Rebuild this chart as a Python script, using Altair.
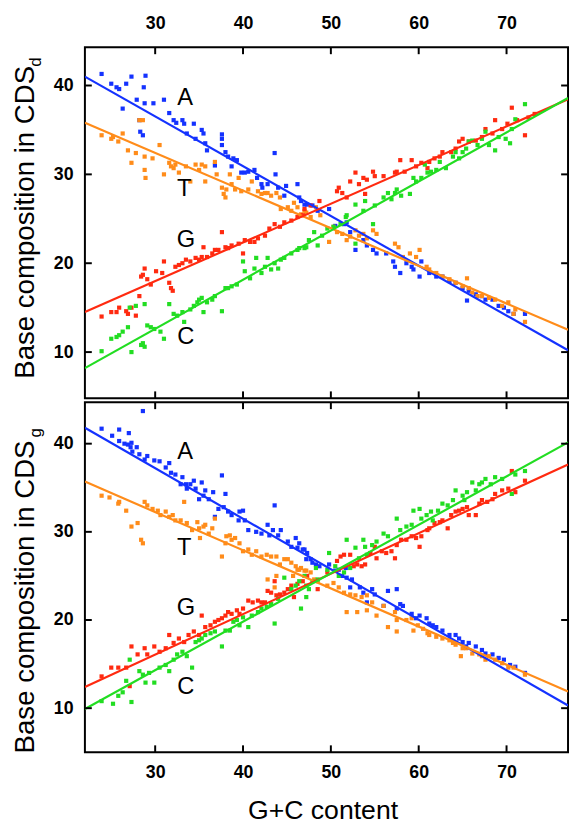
import altair as alt
import pandas as pd

BASES = ["A", "T", "G", "C"]
COLORS = ["#1432ff", "#ff8c1a", "#ff2a10", "#22dd22"]
X_TICKS = [30, 40, 50, 60, 70]
Y_TICKS = [10, 20, 30, 40]
X_DOMAIN = [22, 77]
TOP_Y_DOMAIN = [4.8, 44.3]
BOT_Y_DOMAIN = [5.0, 44.7]

# ---------- top panel (CDS_d) scatter points ----------
TOP_A = [(23.9,41.3),(25.0,40.2),(25.6,39.8),(25.9,39.6),(26.7,40.2),(27.3,41.0),(28.9,41.1),(28.7,39.8),
         (27.9,38.4),(28.8,38.0),(29.8,38.0),(31.0,38.4),(26.3,37.4),(28.2,36.1),(28.6,34.4),(28.3,34.8),
         (31.6,36.9),(32.1,36.1),(32.4,35.8),(33.1,36.1),(33.3,35.7),(34.4,35.7),(33.6,34.6),(34.6,34.0),
         (35.3,35.0),(35.5,34.6),(35.7,33.5),(35.9,32.7),(37.6,34.5),(37.6,34.0),(37.6,33.3),(38.0,32.5),
         (36.8,31.0),(38.3,32.0),(38.9,31.8),(39.3,31.6),(38.7,30.9),(39.8,30.2),(40.2,30.2),(40.6,30.3),
         (41.3,30.5),(41.6,29.6),(42.1,28.9),(42.2,28.5),(42.8,28.9),(43.6,32.4),(43.7,30.0),(44.0,28.5),
         (44.7,27.6),(44.9,28.7),(46.2,28.9),(46.6,27.0),(47.0,26.6),(46.4,27.4),(47.3,26.6),(47.9,26.5),
         (48.5,25.9),(49.8,26.1),(50.5,24.2),(51.5,24.4),(51.8,24.6),(52.2,23.5),(52.8,21.5),(53.7,22.6),
         (54.1,22.0),(54.8,21.5),(55.2,21.1),(56.3,21.1),(57.1,20.2),(57.3,19.6),(57.9,18.9),(58.6,20.0),
         (59.2,19.6),(59.4,19.3),(60.1,18.5),(60.3,20.2),(61.2,18.9),(62.0,18.5),(62.7,18.5),(63.5,18.0),
         (64.2,17.8),(65.0,17.2),(65.5,15.8),(65.7,16.9),(66.5,16.5),(67.2,16.3),(67.6,15.9),(68.4,15.9),
         (69.1,15.2),(69.7,15.0),(70.2,14.6),(70.8,14.3),(72.1,14.3)]
TOP_T = [(23.9,34.4),(25.0,34.0),(25.8,33.7),(26.3,34.6),(25.2,34.2),(26.9,32.7),(27.3,31.3),(27.8,32.4),
         (28.2,36.1),(28.6,36.1),(28.8,30.5),(28.9,29.6),(28.8,32.0),(29.7,31.8),(30.5,33.3),(31.0,30.0),
         (31.6,31.3),(31.8,30.9),(32.1,30.7),(32.3,31.1),(32.7,30.2),(33.5,30.9),(34.0,29.2),(34.6,31.1),
         (35.0,30.5),(35.3,31.1),(35.7,30.9),(35.7,29.2),(36.8,31.4),(37.0,30.0),(37.6,28.5),(37.8,27.8),
         (38.0,27.4),(38.1,28.3),(38.5,30.0),(38.7,28.9),(39.1,28.3),(39.5,29.6),(39.8,28.1),(40.6,28.3),
         (41.0,29.2),(41.7,28.1),(42.1,27.8),(42.5,27.9),(42.8,27.9),(43.2,27.6),(43.8,27.9),(44.2,27.4),
         (44.3,26.1),(45.1,26.3),(45.5,25.9),(45.8,26.8),(46.2,26.3),(46.6,25.5),(47.0,25.9),(47.2,25.7),
         (47.7,25.2),(48.3,26.3),(48.8,25.4),(49.8,22.4),(50.3,24.1),(50.7,23.5),(51.3,23.3),(51.8,22.6),
         (52.2,23.0),(52.8,23.7),(53.2,23.1),(53.7,23.3),(54.1,22.8),(54.8,23.7),(55.2,23.3),(57.3,22.2),
         (57.7,21.8),(58.2,20.7),(59.0,21.1),(59.7,20.7),(60.1,21.5),(60.9,19.6),(61.2,19.3),(62.0,18.9),
         (62.7,18.5),(63.5,18.2),(64.2,17.8),(65.0,17.4),(65.5,18.3),(65.7,17.2),(66.1,16.7),(66.7,16.3),
         (67.2,16.3),(68.0,16.1),(68.7,15.9),(69.5,15.2),(70.2,15.6),(70.8,14.3),(72.1,13.4),(71.0,14.8)]
TOP_G = [(23.9,14.0),(25.0,14.5),(25.6,14.5),(25.9,15.0),(26.7,14.6),(26.9,14.3),(27.3,15.0),(27.8,14.1),
         (28.2,16.3),(28.4,18.5),(28.6,18.7),(28.8,19.4),(29.1,18.2),(29.5,17.6),(30.1,19.1),(30.8,18.9),
         (31.0,20.2),(31.6,17.8),(31.8,17.2),(32.0,16.9),(32.3,19.6),(32.7,19.8),(33.1,20.0),(33.5,20.4),
         (34.0,20.2),(34.6,20.6),(35.0,20.4),(35.3,20.7),(35.5,21.8),(35.9,20.7),(36.5,21.1),(36.8,21.5),
         (37.2,21.5),(37.6,23.5),(38.0,21.8),(38.3,21.7),(38.7,22.0),(39.5,22.2),(40.0,21.1),(40.2,22.6),
         (40.8,22.4),(41.3,22.4),(41.7,22.8),(42.5,23.1),(43.0,23.9),(43.6,24.4),(44.2,24.1),(44.7,24.6),
         (45.5,24.8),(46.2,25.2),(46.8,25.4),(47.0,26.1),(47.7,26.5),(48.7,27.0),(50.7,28.1),(50.9,28.5),
         (51.3,27.9),(51.8,27.4),(52.2,29.2),(52.8,30.2),(53.2,28.9),(53.7,29.6),(53.9,27.8),(54.1,29.4),
         (54.8,30.3),(55.0,29.8),(56.0,29.8),(57.3,30.2),(57.5,30.3),(57.9,31.6),(58.4,30.3),(59.2,31.6),
         (59.7,30.9),(60.3,31.3),(61.0,30.7),(61.2,31.4),(61.8,31.8),(62.4,32.0),(62.7,32.5),(63.7,32.5),
         (64.2,32.9),(64.6,33.7),(65.0,34.0),(65.7,33.7),(66.5,33.8),(67.2,34.2),(67.6,35.1),(68.4,34.6),
         (68.7,36.1),(69.5,35.1),(70.1,35.7),(70.6,37.5),(71.2,36.1),(72.1,34.4),(72.5,36.4),(73.2,36.8)]
TOP_C = [(23.9,10.1),(25.0,11.5),(25.6,11.7),(25.9,11.9),(26.3,12.3),(26.9,12.8),(27.3,10.0),(28.4,10.8),
         (28.6,11.0),(28.8,10.6),(29.1,13.0),(29.5,12.8),(29.9,12.6),(30.6,12.3),(31.0,11.5),(31.6,15.4),
         (32.1,14.3),(32.5,14.1),(33.1,14.5),(33.3,13.4),(34.0,14.8),(34.4,15.2),(34.8,15.6),(35.0,15.9),
         (35.3,16.1),(35.5,14.5),(35.9,15.6),(36.5,15.9),(36.8,16.3),(37.6,14.6),(38.0,17.2),(38.3,17.2),
         (38.7,17.4),(39.3,17.6),(40.0,20.2),(40.2,19.1),(40.8,18.3),(41.3,19.4),(41.5,20.6),(42.1,18.9),
         (42.5,19.6),(42.8,20.6),(43.2,19.3),(43.6,20.0),(44.0,19.4),(44.3,20.4),(44.7,20.6),(45.5,21.1),
         (46.2,21.5),(47.2,21.8),(27.1,15.0),(27.8,15.2),(28.8,15.4),(46.4,21.7),(47.0,21.7),(47.5,22.6),
         (48.1,23.5),(48.5,22.0),(49.0,23.1),(49.6,23.9),(50.3,24.1),(51.1,24.4),(51.7,25.2),(51.8,25.4),
         (52.8,26.6),(52.8,22.2),(53.7,25.9),(53.9,27.0),(54.8,24.4),(55.0,26.5),(56.0,27.4),(56.5,27.9),
         (56.9,27.2),(57.3,27.9),(57.5,28.3),(58.0,27.6),(59.0,27.8),(59.4,29.6),(59.7,29.2),(60.3,29.6),
         (60.7,31.1),(61.0,30.2),(61.4,30.3),(62.0,30.5),(62.4,31.4),(63.1,30.7),(63.9,32.0),(64.2,32.5),
         (64.6,31.8),(65.0,32.5),(65.4,32.9),(65.7,33.7),(66.1,33.8),(66.7,33.3),(67.2,34.0),(67.6,34.8),
         (68.0,33.3),(68.7,32.7),(69.1,34.2),(69.9,34.0),(70.4,33.5),(70.6,35.1),(71.0,36.2),(72.1,37.9)]

# ---------- bottom panel (CDS_g) scatter points ----------
BOT_A = [(23.9,41.7),(25.1,40.9),(25.9,41.6),(27.0,41.2),(26.5,40.0),(27.2,39.6),(27.9,39.6),(27.4,39.1),
         (28.6,43.7),(29.9,38.1),(25.9,40.3),(26.9,39.9),(27.3,40.1),(28.2,38.8),(28.8,38.2),(29.1,38.6),
         (30.5,38.0),(31.2,37.3),(31.6,37.8),(31.8,36.7),(32.3,36.5),(32.9,35.4),(33.1,36.2),(33.5,35.4),
         (33.6,34.9),(34.0,35.4),(34.4,35.8),(34.6,34.9),(35.0,33.7),(35.3,35.6),(35.5,34.1),(35.7,34.7),
         (36.1,33.7),(36.6,34.5),(36.8,31.7),(37.2,32.6),(37.6,36.4),(37.8,32.8),(38.0,34.3),(38.3,32.3),
         (38.7,31.9),(39.5,31.3),(39.6,32.3),(40.0,32.4),(40.2,31.3),(40.6,30.2),(41.5,30.0),(42.1,29.8),
         (42.8,30.8),(43.0,29.6),(43.4,30.2),(43.6,33.0),(44.0,29.6),(44.3,30.2),(45.1,28.9),(45.5,28.3),
         (46.0,29.3),(46.2,28.2),(47.0,28.0),(47.2,26.9),(46.4,28.7),(46.8,28.0),(47.3,27.6),(47.7,26.9),
         (47.9,26.5),(48.3,26.3),(48.7,26.1),(49.8,26.3),(50.5,25.6),(50.9,25.7),(51.3,25.0),(51.7,25.9),
         (51.8,24.8),(52.2,23.7),(52.4,24.6),(53.3,23.7),(53.7,23.1),(54.1,22.0),(54.7,23.5),(55.0,22.9),
         (56.0,21.6),(56.5,23.3),(57.5,23.5),(57.5,21.3),(57.9,21.8),(58.2,21.6),(59.2,20.7),(59.7,20.2),
         (60.1,20.5),(60.9,20.2),(61.2,19.6),(61.6,19.4),(62.0,19.2),(62.7,18.8),(63.5,18.3),(64.2,18.3),
         (64.6,17.9),(65.0,17.5),(65.4,17.0),(65.7,17.4),(66.5,17.0),(67.2,16.6),(67.6,16.2),(68.4,16.1),
         (69.1,15.7),(69.7,15.5),(70.4,14.9),(71.0,14.7),(72.1,14.0)]
BOT_T = [(23.9,34.1),(24.8,33.9),(25.8,33.2),(25.9,33.4),(26.7,32.4),(27.3,30.6),(28.0,31.0),(28.4,29.1),
         (28.6,28.7),(28.8,33.4),(29.1,33.0),(29.7,32.6),(30.3,32.4),(30.6,31.9),(31.2,32.3),(31.6,31.7),
         (32.0,31.9),(32.3,31.3),(32.9,31.3),(33.3,33.4),(33.6,31.0),(34.2,30.2),(34.8,31.1),(35.0,30.4),
         (35.1,29.3),(35.5,30.6),(35.7,30.8),(36.1,29.8),(36.5,30.4),(36.8,31.5),(37.6,27.2),(38.0,28.7),
         (38.1,29.5),(38.5,29.6),(38.7,29.1),(39.1,29.3),(39.6,28.7),(40.0,27.8),(40.6,28.0),(41.0,27.4),
         (41.5,27.8),(42.1,27.2),(42.7,27.4),(43.2,27.2),(43.8,27.2),(44.2,26.3),(44.7,26.9),(45.1,26.9),
         (45.5,26.5),(46.0,26.1),(46.4,25.7),(47.0,25.6),(43.8,25.0),(45.7,25.0),(42.8,24.6),(43.6,23.7),
         (46.2,25.7),(46.6,25.9),(47.2,25.6),(47.7,25.4),(48.1,24.6),(48.5,24.4),(49.6,23.9),(50.3,24.2),
         (50.9,23.7),(51.5,23.1),(51.8,20.9),(52.2,22.9),(52.8,22.8),(53.0,20.9),(53.5,22.6),(54.1,21.1),
         (54.1,22.8),(54.7,22.0),(55.2,20.5),(56.0,21.6),(56.5,19.2),(57.3,20.9),(57.5,18.7),(57.5,20.0),
         (58.6,20.0),(59.2,20.2),(59.4,18.8),(59.9,19.4),(60.5,19.0),(61.0,18.5),(61.2,18.3),(62.0,18.1),
         (62.7,17.9),(63.5,17.7),(63.9,17.4),(64.2,17.2),(64.8,15.9),(65.0,16.8),(65.4,16.8),(66.1,16.2),
         (66.9,16.1),(67.2,15.9),(67.6,15.5),(68.0,15.9),(68.7,15.5),(69.5,15.1),(70.2,14.6),(70.8,14.6),
         (72.1,13.8)]
BOT_G = [(23.9,13.6),(25.0,14.6),(25.8,14.6),(26.7,14.6),(27.1,12.5),(27.3,17.0),(28.0,16.1),(28.8,16.8),
         (29.1,16.1),(29.9,17.0),(30.5,16.4),(31.2,16.8),(31.6,18.3),(32.1,17.4),(32.7,17.9),(33.3,17.5),
         (33.8,18.3),(34.4,18.7),(35.0,18.3),(35.3,20.5),(35.7,19.2),(36.3,19.4),(36.8,19.8),(37.2,20.0),
         (37.6,20.2),(38.0,20.5),(38.3,20.9),(38.7,20.7),(39.3,21.1),(39.6,20.7),(40.0,21.3),(40.6,22.2),
         (41.1,22.0),(41.7,22.2),(42.1,22.0),(42.5,22.0),(42.8,23.3),(43.2,23.1),(43.6,24.4),(43.8,22.8),
         (44.2,22.9),(44.7,23.1),(45.1,23.5),(45.5,23.9),(45.8,22.6),(46.2,24.1),(46.8,24.4),(47.3,25.0),
         (48.5,23.5),(49.6,25.4),(50.7,26.7),(51.1,27.2),(51.5,27.4),(52.2,27.4),(52.6,26.1),(53.0,26.3),
         (53.5,26.1),(53.9,26.3),(54.5,27.6),(55.0,28.3),(55.2,27.0),(55.8,27.8),(56.3,27.6),(56.9,27.8),
         (57.3,27.0),(57.5,28.5),(58.0,29.1),(58.6,29.1),(59.2,29.5),(59.7,29.3),(60.1,28.3),(60.3,29.5),
         (61.0,30.2),(61.2,30.4),(61.8,31.0),(62.4,31.1),(62.7,31.3),(63.3,30.4),(63.7,31.9),(64.2,32.3),
         (64.6,32.4),(65.0,32.6),(65.5,32.8),(65.7,31.9),(66.5,31.9),(66.9,33.2),(67.2,33.6),(67.8,33.4),
         (68.4,33.7),(68.7,34.3),(69.5,34.7),(70.2,34.9),(70.6,36.9),(71.0,34.5),(72.1,35.8)]
BOT_C = [(23.9,10.8),(25.2,10.5),(25.8,11.4),(26.3,11.8),(26.7,13.1),(27.1,15.5),(27.3,10.7),(28.2,14.2),
         (28.6,13.8),(28.9,12.9),(29.3,14.0),(29.9,12.9),(30.5,14.6),(31.2,14.9),(31.6,14.2),(32.1,15.5),
         (32.5,16.1),(33.1,16.4),(33.6,15.9),(34.2,14.6),(34.6,17.5),(35.0,17.7),(35.3,17.9),(35.7,18.3),
         (36.3,18.5),(36.8,18.7),(37.6,17.0),(38.0,18.8),(38.5,18.8),(38.9,19.8),(39.3,20.0),(39.6,19.4),
         (40.0,20.3),(40.6,19.2),(41.0,20.5),(41.7,20.9),(42.1,21.3),(42.7,21.5),(43.2,21.8),(43.6,19.6),
         (44.0,22.4),(44.7,24.8),(45.5,23.5),(46.0,23.9),(46.4,24.4),(47.0,25.0),(47.2,22.6),(46.6,21.3),
         (47.2,23.9),(47.5,23.5),(47.9,24.4),(48.3,25.9),(48.5,24.6),(49.6,25.7),(49.8,27.6),(50.5,26.1),
         (50.9,25.0),(51.5,25.4),(51.8,29.1),(52.2,25.9),(52.8,28.2),(53.2,27.0),(53.7,29.1),(53.9,28.3),
         (54.1,27.4),(54.7,28.5),(55.2,28.9),(56.0,29.8),(56.5,29.5),(57.5,31.5),(57.9,30.2),(58.6,30.6),
         (59.2,30.8),(59.4,32.4),(60.1,32.6),(60.3,31.5),(60.9,31.9),(61.4,32.3),(61.6,31.3),(62.2,32.4),
         (62.7,33.2),(63.3,33.0),(63.9,33.6),(64.2,34.7),(65.0,34.1),(65.2,33.6),(65.5,34.5),(66.1,35.6),
         (66.5,34.7),(66.9,35.4),(67.2,35.6),(67.6,36.0),(68.2,35.4),(68.7,36.2),(69.5,36.0),(70.6,34.3),
         (71.0,36.5),(72.1,36.9)]

# ---------- fitted lines (values at x = 22 and x = 77) ----------
LINE_X = [22, 77]
TOP_LINE_A = [41.0, 10.2]
TOP_LINE_T = [35.8, 12.5]
TOP_LINE_G = [14.5, 38.45]
TOP_LINE_C = [8.2, 38.6]
BOT_LINE_A = [41.8, 10.3]
BOT_LINE_T = [35.7, 11.9]
BOT_LINE_G = [12.4, 37.65]
BOT_LINE_C = [9.9, 40.15]

# ---------- in-plot letters ----------
LABEL_X = [33.4, 33.3, 33.5, 33.5]
TOP_LABEL_Y = [38.6, 28.3, 22.6, 11.7]
BOT_LABEL_Y = [39.1, 28.1, 21.3, 12.4]

FONT = "Liberation Sans"
W = 490


def panel(points, lines, label_y, ydom, h, top, sub, sub_y, title_y):
    pts = pd.DataFrame([{"x": x, "y": y, "base": b}
                        for b, p in zip(BASES, points) for x, y in p])
    lns = pd.DataFrame([{"x": LINE_X[i], "y": ys[i], "base": b}
                        for b, ys in zip(BASES, lines) for i in range(2)])
    labs = pd.DataFrame({"x": LABEL_X, "y": label_y, "t": BASES})
    xt = pd.DataFrame({"x": X_TICKS})
    yt = pd.DataFrame({"y": Y_TICKS})

    xs = alt.Scale(domain=X_DOMAIN, nice=False, zero=False)
    ys_ = alt.Scale(domain=ydom, nice=False, zero=False)
    col = alt.Color("base:N", scale=alt.Scale(domain=BASES, range=COLORS), legend=None)

    common = dict(ticks=False, domain=False, grid=False, labelFont=FONT, labelFontSize=18,
                  labelFontWeight="bold", labelColor="black")
    if top:
        xaxis = alt.Axis(orient="top", values=X_TICKS, title=None, labelPadding=15, **common)
    else:
        xaxis = alt.Axis(orient="bottom", values=X_TICKS, title="G+C content",
                         titleFont=FONT, titleFontSize=27, titleFontWeight="normal",
                         titleColor="black", titleBaseline="alphabetic", titleY=67, titleX=241,
                         labelPadding=12, **common)
    yaxis = alt.Axis(orient="left", values=Y_TICKS, labelPadding=12,
                     title="Base composition in CDS", titleFont=FONT, titleFontSize=28,
                     titleFontWeight="normal", titleColor="black", titleAngle=270,
                     titleBaseline="alphabetic", titleX=-52, titleY=title_y, titleAlign="center",
                     **common)
    X = lambda f="x": alt.X(f"{f}:Q", scale=xs, axis=xaxis)
    Y = lambda f="y": alt.Y(f"{f}:Q", scale=ys_, axis=yaxis)

    points_layer = alt.Chart(pts).mark_square(size=18, opacity=1).encode(
        x=X(), y=Y(), color=col)
    line_layer = alt.Chart(lns).mark_line(strokeWidth=2.2, clip=True).encode(
        x=X(), y=Y(), color=col, detail="base:N")
    text_layer = alt.Chart(labs).mark_text(font=FONT, fontSize=24, color="black",
                                           align="center", baseline="middle").encode(
        x=X(), y=Y(), text="t:N")
    sub_layer = alt.Chart(pd.DataFrame({"t": [sub]})).mark_text(
        font=FONT, fontSize=17, color="black", angle=270, align="center",
        baseline="alphabetic").encode(
        x=alt.value(-45), y=alt.value(sub_y), text="t:N")

    tk = dict(color="black", strokeWidth=2)
    xt_top = alt.Chart(xt).mark_rule(**tk).encode(x=X(), y=alt.value(0), y2=alt.value(7))
    xt_bot = alt.Chart(xt).mark_rule(**tk).encode(x=X(), y=alt.value(h), y2=alt.value(h - 7))
    yt_l = alt.Chart(yt).mark_rule(**tk).encode(y=Y(), x=alt.value(0), x2=alt.value(7))
    yt_r = alt.Chart(yt).mark_rule(**tk).encode(y=Y(), x=alt.value(W), x2=alt.value(W - 7))

    return alt.layer(points_layer, line_layer, text_layer, sub_layer,
                     xt_top, xt_bot, yt_l, yt_r).properties(width=W, height=h)


top = panel([TOP_A, TOP_T, TOP_G, TOP_C],
            [TOP_LINE_A, TOP_LINE_T, TOP_LINE_G, TOP_LINE_C],
            TOP_LABEL_Y, TOP_Y_DOMAIN, 356, True, "d", 15, 177)
bottom = panel([BOT_A, BOT_T, BOT_G, BOT_C],
               [BOT_LINE_A, BOT_LINE_T, BOT_LINE_G, BOT_LINE_C],
               BOT_LABEL_Y, BOT_Y_DOMAIN, 355, False, "g", 31, 197)

chart = alt.vconcat(top, bottom, spacing=0).properties(
    padding={"left": 2, "top": 0, "right": 0, "bottom": 0}
).configure(background="white").configure_view(stroke="black", strokeWidth=2)

chart.save("out.html", embed_options={"renderer": "svg", "actions": False})
